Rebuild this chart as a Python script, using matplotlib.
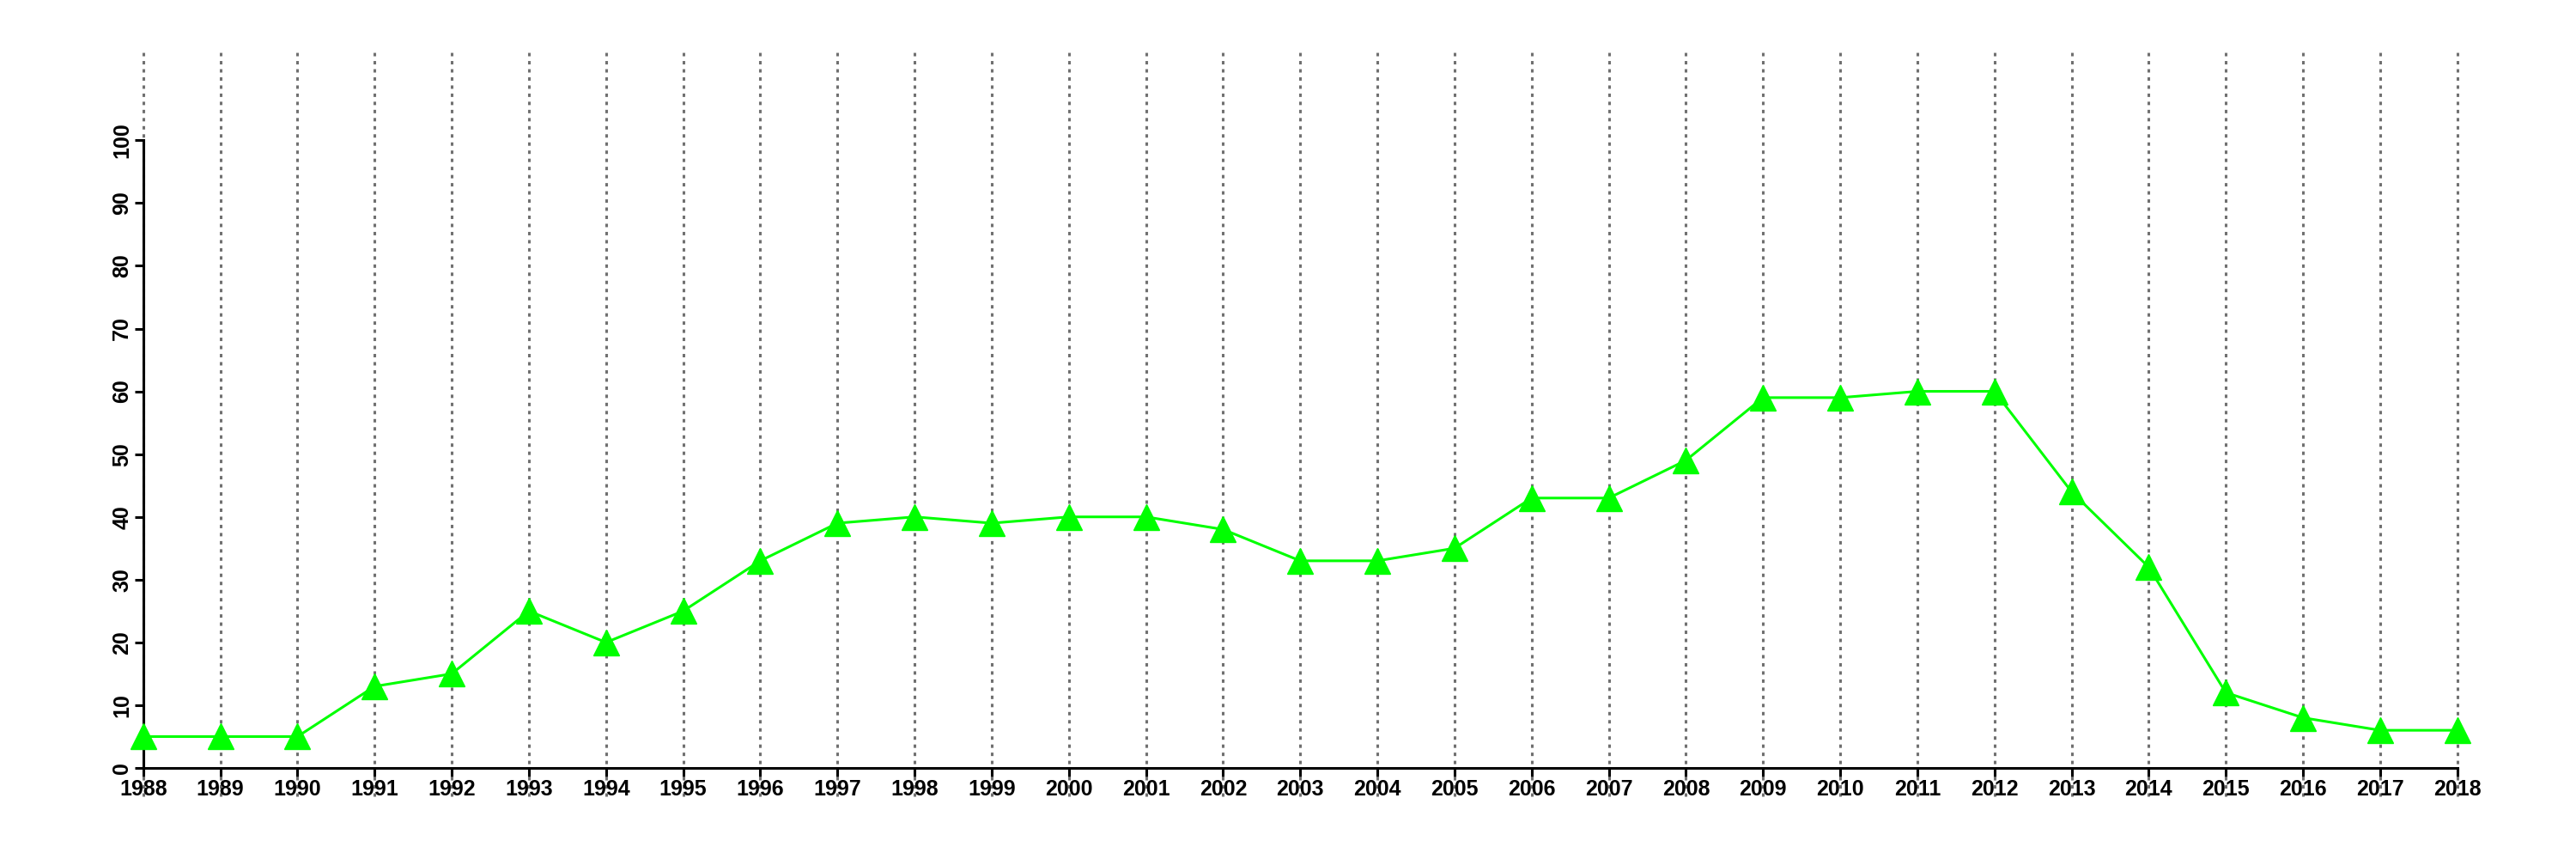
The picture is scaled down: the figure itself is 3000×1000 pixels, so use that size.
import matplotlib
matplotlib.use("Agg")
import matplotlib.pyplot as plt

plt.rcParams['font.family'] = ['Liberation Sans', 'DejaVu Sans']

years = list(range(1988, 2019))
values = [5, 5, 5, 13, 15, 25, 20, 25, 33, 39, 40, 39, 40, 40, 38, 33,
          33, 35, 43, 43, 49, 59, 59, 60, 60, 44, 32, 12, 8, 6, 6]
yticks = list(range(0, 101, 10))

fig = plt.figure(figsize=(30, 10), dpi=100)
ax = fig.add_axes([0.0556, 0.106, 0.8983, 0.7307])

# dotted year lines, reaching beyond the plot box
ax.vlines(years, -4.5, 114, colors="#707070", linestyles=(0, (1.3, 1.8)),
          linewidth=2.2, clip_on=False, zorder=1)

ax.plot(years, values, color="#00ff00", lw=2.2, marker="^", ms=21,
        clip_on=False, zorder=3)

ax.set_xlim(1988, 2018)
ax.set_ylim(0, 100)
ax.set_xticks(years)
ax.set_xticklabels([str(y) for y in years])
ax.set_yticks(yticks)
ax.set_yticklabels([str(t) for t in yticks], rotation=90, va="center")

for s in ("top", "right"):
    ax.spines[s].set_visible(False)
for s in ("left", "bottom"):
    ax.spines[s].set_linewidth(2.2)
ax.tick_params(axis="both", length=7, width=2.2, labelsize=18, pad=2)
for lab in ax.get_xticklabels() + ax.get_yticklabels():
    lab.set_fontweight("bold")

fig.savefig("out.png", dpi=100)
